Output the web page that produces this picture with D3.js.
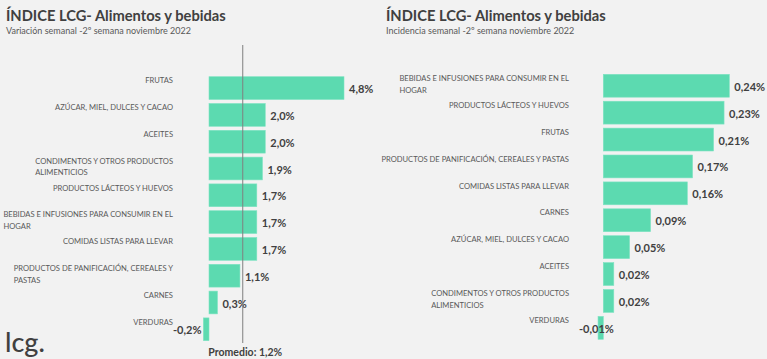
<!DOCTYPE html>
<html>
<head>
<meta charset="utf-8">
<script src="https://cdn.jsdelivr.net/npm/d3@7"></script>
<style>
  html, body { margin: 0; padding: 0; background: #f2f2f2; }
  svg { display: block; font-family: Lato, "Open Sans", sans-serif; }
</style>
</head>
<body>
<svg id="chart" width="767" height="359"></svg>
<script>
// ---- Data ----
const titleText = "ÍNDICE LCG- Alimentos y bebidas";
const leftSubtitle = "Variación semanal -2º semana noviembre 2022";
const rightSubtitle = "Incidencia semanal -2º semana noviembre 2022";

const leftCategories = [
  "FRUTAS",
  "AZÚCAR, MIEL, DULCES Y CACAO",
  "ACEITES",
  "CONDIMENTOS Y OTROS PRODUCTOS ALIMENTICIOS",
  "PRODUCTOS LÁCTEOS Y HUEVOS",
  "BEBIDAS E INFUSIONES PARA CONSUMIR EN EL HOGAR",
  "COMIDAS LISTAS PARA LLEVAR",
  "PRODUCTOS DE PANIFICACIÓN, CEREALES Y PASTAS",
  "CARNES",
  "VERDURAS"
];
const leftValues = [4.8, 2.0, 2.0, 1.9, 1.7, 1.7, 1.7, 1.1, 0.3, -0.2];
const averageValue = 1.2;
const averageLabel = "Promedio: 1,2%";

const rightCategories = [
  "BEBIDAS E INFUSIONES PARA CONSUMIR EN EL HOGAR",
  "PRODUCTOS LÁCTEOS Y HUEVOS",
  "FRUTAS",
  "PRODUCTOS DE PANIFICACIÓN, CEREALES Y PASTAS",
  "COMIDAS LISTAS PARA LLEVAR",
  "CARNES",
  "AZÚCAR, MIEL, DULCES Y CACAO",
  "ACEITES",
  "CONDIMENTOS Y OTROS PRODUCTOS ALIMENTICIOS",
  "VERDURAS"
];
const rightValues = [0.24, 0.23, 0.21, 0.17, 0.16, 0.09, 0.05, 0.02, 0.02, -0.01];

const logoText = "lcg.";

// ---- Styles ----
const barColor = "#5cdab0";
const darkText = "#404040";
const grayText = "#595959";

const svg = d3.select("#chart");

function measure(text, fontSize) {
  const tmp = svg.append("text").attr("font-size", fontSize).text(text);
  const w = tmp.node().getComputedTextLength();
  tmp.remove();
  return w;
}

function wrapLines(text, maxWidth, fontSize) {
  const words = text.split(" ");
  const lines = [];
  let line = [];
  for (const w of words) {
    line.push(w);
    if (measure(line.join(" "), fontSize) > maxWidth && line.length > 1) {
      line.pop();
      lines.push(line.join(" "));
      line = [w];
    }
  }
  lines.push(line.join(" "));
  return lines;
}

function fmt(decimals) {
  const f = d3.format("." + decimals + "f");
  return v => f(v).replace(".", ",").replace("\u2212", "-") + "%";
}

function drawPanel(cfg) {
  const g = svg.append("g");
  // titles
  g.append("text").attr("x", cfg.titleX).attr("y", 21)
    .attr("font-size", 14.7).attr("font-weight", 700).attr("fill", darkText)
    .text(titleText);
  g.append("text").attr("x", cfg.titleX).attr("y", 33.5)
    .attr("font-size", 9).attr("fill", grayText)
    .text(cfg.subtitle);

  const x = d3.scaleLinear().domain([0, cfg.refValue]).range([cfg.zeroX, cfg.refX]);
  const y = d3.scaleBand().domain(cfg.categories)
    .range(cfg.yRange).paddingInner(0.15).paddingOuter(0.075);

  const data = cfg.categories.map((c, i) => ({ c, v: cfg.values[i] }));

  g.selectAll("rect.bar").data(data).join("rect")
    .attr("class", "bar")
    .attr("x", d => Math.min(x(0), x(d.v)))
    .attr("y", d => y(d.c))
    .attr("width", d => Math.abs(x(d.v) - x(0)))
    .attr("height", y.bandwidth())
    .attr("fill", barColor)
    .attr("stroke", "#7ee3c2").attr("stroke-width", 0.6);

  // category labels: block right-aligned, lines left-aligned
  data.forEach(d => {
    const lines = wrapLines(d.c, cfg.wrapWidth, cfg.catSize);
    const blockW = d3.max(lines, ln => measure(ln, cfg.catSize));
    const lx = cfg.labelRight - blockW;
    const t = g.append("text")
      .attr("font-size", cfg.catSize).attr("fill", grayText);
    lines.forEach((ln, i) => {
      t.append("tspan").attr("x", lx)
        .attr("y", y(d.c) + 6.6 + i * 11.6).text(ln);
    });
  });

  // value labels
  const f = fmt(cfg.decimals);
  data.forEach(d => {
    const t = g.append("text")
      .attr("font-size", 11).attr("font-weight", 700).attr("fill", darkText)
      .attr("y", y(d.c) + y.bandwidth() / 2 + 5)
      .text(f(d.v));
    if (d.v >= 0) {
      t.attr("x", x(d.v) + 5);
    } else {
      const w = t.node().getComputedTextLength();
      t.attr("x", Math.max(cfg.plotLeft, x(d.v) - 6 - w));
    }
  });
  return x;
}

const xl = drawPanel({
  titleX: 6, subtitle: leftSubtitle,
  categories: leftCategories, values: leftValues,
  zeroX: 209, refValue: 4.8, refX: 344,
  yRange: [74.7, 342.7],
  labelRight: 173, wrapWidth: 176, catSize: 7.6,
  decimals: 1, plotLeft: 173
});

// average line
svg.append("line")
  .attr("x1", xl(averageValue)).attr("x2", xl(averageValue))
  .attr("y1", 45).attr("y2", 343)
  .attr("stroke", "#7f7f7f").attr("stroke-width", 1);
svg.append("text")
  .attr("x", xl(averageValue) + 2.5).attr("y", 355.5)
  .attr("text-anchor", "middle")
  .attr("font-size", 10.5).attr("font-weight", 700).attr("fill", darkText)
  .text(averageLabel);

drawPanel({
  titleX: 386, subtitle: rightSubtitle,
  categories: rightCategories, values: rightValues,
  zeroX: 603.3, refValue: 0.24, refX: 729.3,
  yRange: [72.3, 341.3],
  labelRight: 569, wrapWidth: 190, catSize: 7.6,
  decimals: 2, plotLeft: 579
});

// logo
svg.append("text").attr("x", 5).attr("y", 352)
  .attr("font-size", 27).attr("font-weight", 500).attr("fill", darkText)
  .text(logoText);
</script>
</body>
</html>
